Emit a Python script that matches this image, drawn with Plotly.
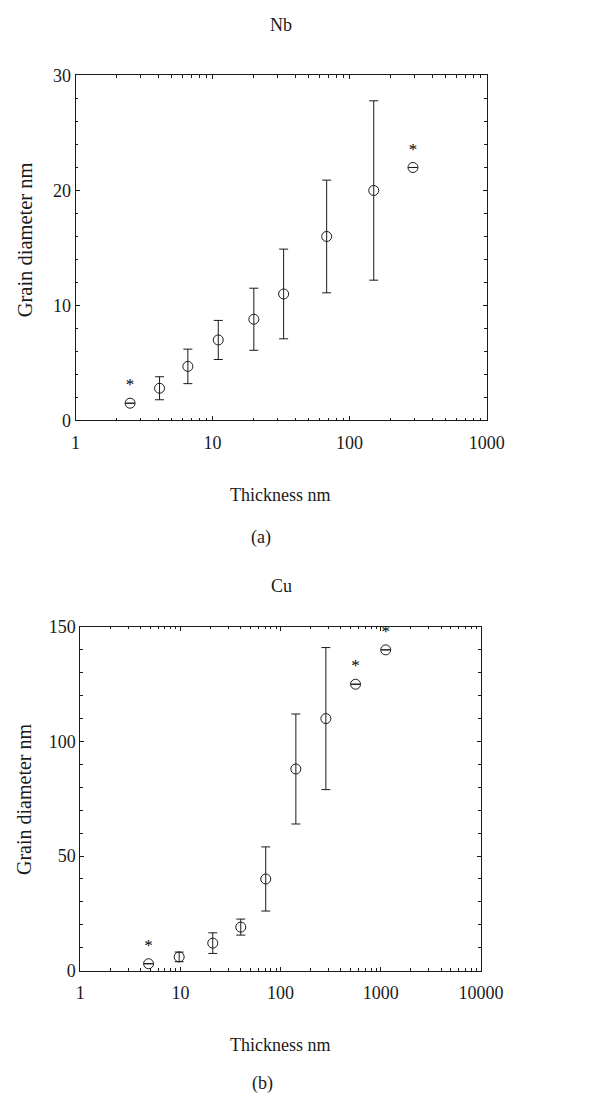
import plotly.graph_objects as go

# ---- data: Nb ----
nb_thickness = [2.5, 4.1, 6.6, 11, 20, 33, 68, 150, 290]
nb_diameter = [1.5, 2.8, 4.7, 7.0, 8.8, 11.0, 16.0, 20.0, 22.0]
nb_error = [0, 1.0, 1.5, 1.7, 2.7, 3.9, 4.9, 7.8, 0]
nb_starred_thickness = [2.5, 290]
nb_starred_diameter = [1.5, 22.0]

# ---- data: Cu ----
cu_thickness = [4.8, 9.7, 21, 40, 71, 142, 283, 560, 1120]
cu_diameter = [3, 6, 12, 19, 40, 88, 110, 125, 140]
cu_error = [0, 2.1, 4.5, 3.5, 14, 24, 31, 0, 0]
cu_starred_thickness = [4.8, 560, 1120]
cu_starred_diameter = [3, 125, 140]

FONT = "Liberation Serif, Times New Roman, DejaVu Serif, serif"
INK = "#1a1a1a"
W, H = 605, 1107

fig = go.Figure()


def add_panel(fig, xs, ys, errs, sx, sy, xa, ya):
    fig.add_trace(go.Scatter(
        x=xs, y=ys, mode="markers", xaxis=xa, yaxis=ya,
        marker=dict(symbol="circle-open", size=10, color=INK, line=dict(width=1, color=INK)),
        error_y=dict(type="data", array=errs, visible=True, color=INK, thickness=1, width=4.5),
        showlegend=False, hoverinfo="x+y",
    ))
    fig.add_trace(go.Scatter(
        x=sx, y=sy, mode="markers+text", xaxis=xa, yaxis=ya,
        marker=dict(size=12, opacity=0),
        text=["*"] * len(sx), textposition="top center",
        textfont=dict(family=FONT, size=17, color="black"),
        showlegend=False, hoverinfo="skip",
    ))


add_panel(fig, nb_thickness, nb_diameter, nb_error, nb_starred_thickness, nb_starred_diameter, "x", "y")
add_panel(fig, cu_thickness, cu_diameter, cu_error, cu_starred_thickness, cu_starred_diameter, "x2", "y2")

top_x = [74 / W, 505 / W]
top_y = [1 - 418 / H, 1 - 66.7 / H]
bot_x = [79 / W, 499 / W]
bot_y = [1 - 978.3 / H, 1 - 628.3 / H]

common = dict(showline=True, linecolor=INK, linewidth=1, mirror="ticks", ticks="inside",
              ticklen=4, tickcolor=INK, tickwidth=1, showgrid=False, zeroline=False,
              tickfont=dict(family=FONT, size=18, color=INK))

fig.update_layout(
    width=W, height=H, autosize=False,
    margin=dict(l=0, r=0, t=0, b=0),
    paper_bgcolor="white", plot_bgcolor="white",
    font=dict(family=FONT, color=INK),
    xaxis=dict(domain=top_x, anchor="y", type="log", range=[0, 3], dtick=1,
               tickformat="d", ticklabelstandoff=6,
               minor=dict(ticks="inside", ticklen=2.5, tickcolor=INK, dtick="D1", showgrid=False),
               **common),
    yaxis=dict(domain=top_y, anchor="x", range=[0, 30], dtick=10,
               minor=dict(ticks="inside", ticklen=2.5, tickcolor=INK, dtick=2, showgrid=False),
               **common),
    xaxis2=dict(domain=bot_x, anchor="y2", type="log", range=[0, 4], dtick=1,
                tickformat="d", ticklabelstandoff=6,
                minor=dict(ticks="inside", ticklen=2.5, tickcolor=INK, dtick="D1", showgrid=False),
                **common),
    yaxis2=dict(domain=bot_y, anchor="x2", range=[0, 150], dtick=50,
                minor=dict(ticks="inside", ticklen=2.5, tickcolor=INK, dtick=10, showgrid=False),
                **common),
)


def label(text, x, y, angle=0, size=18):
    fig.add_annotation(text=text, xref="paper", yref="paper", x=x / W, y=1 - y / H,
                       xanchor="center", yanchor="middle", showarrow=False, textangle=angle,
                       font=dict(family=FONT, size=size, color=INK))


label("Nb", 289.5, 15)
label("Thickness nm", 289, 494)
label("(a)", 268, 537)
label("Grain diameter nm", 20.5, 234, -90, 20.5)

label("Cu", 289.5, 587)
label("Thickness nm", 289, 1054)
label("(b)", 270, 1093)
label("Grain diameter nm", 20.5, 804, -90, 20)

fig.write_html("out.html")
